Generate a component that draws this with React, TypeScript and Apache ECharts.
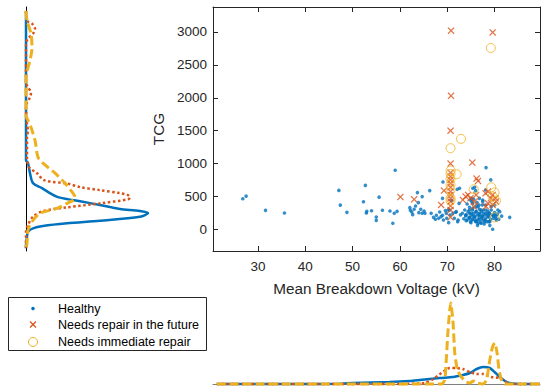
import React, { useEffect, useRef } from "react";
import * as echarts from "echarts";

// ---------- data ----------
const X_MIN = 20.5;
const X_MAX = 89.6;
const Y_MIN = -330;
const Y_MAX = 3380;

const seriesNames = ["Healthy", "Needs repair in the future", "Needs immediate repair"];

// [Mean breakdown voltage (kV), TCG]
const healthy: [number, number][] = [
  [26.8, 464], [27.5, 505], [31.6, 288], [35.6, 247], [47.1, 591], [47.4, 368], [48.8, 258],
  [52.3, 418], [52.7, 667], [52.9, 247], [53.0, 273], [54.0, 282], [55.0, 186], [55.0, 136],
  [55.6, 489], [56.3, 289], [57.9, 279], [58.8, 243], [58.5, 91], [59.4, 273], [59.0, 898],
  [62.1, 329], [62.2, 289], [62.5, 263], [62.7, 223], [63.0, 304], [63.3, 355], [63.7, 558],
  [63.9, 405], [64.0, 253], [64.4, 304], [64.7, 497], [64.7, 243], [65.1, 279], [65.3, 243],
  [66.3, 588], [66.6, 243], [67.1, 182], [67.5, 152], [67.7, 213], [68.2, 167], [68.4, 263],
  [69.0, 213], [69.0, 471], [69.1, 720], [69.2, 141], [69.6, 284], [70.2, 294], [70.3, 101],
  [70.6, 218], [70.9, 436], [71.2, 243], [71.5, 167], [72.1, 608], [72.6, 624], [72.5, 395],
  [72.3, 141], [73.2, 243], [73.7, 294], [73.9, 202], [74.2, 141], [74.4, 268], [74.6, 182],
  [74.7, 243], [74.9, 116], [75.1, 218], [75.3, 294], [75.4, 152], [75.6, 243], [75.8, 182],
  [76.0, 131], [76.1, 268], [76.3, 218], [76.5, 152], [76.7, 243], [76.8, 182], [77.0, 101],
  [77.2, 268], [77.4, 202], [77.5, 141], [77.7, 294], [77.9, 218], [78.1, 167], [78.2, 243],
  [78.4, 116], [78.6, 268], [78.8, 192], [78.9, 243], [79.2, 152], [79.3, 294], [79.5, 218],
  [79.6, 0], [79.8, 167], [80.0, 253], [80.3, 202], [80.7, 294], [80.9, 152], [81.1, 268],
  [75.8, 639], [78.2, 938], [79.2, 751], [78.1, 598], [83.2, 182], [75.1, 471], [74.2, 385],
  [76.7, 370], [77.5, 421], [76.1, 345], [74.7, 334], [76.8, 304], [79.3, 345], [80.0, 370],
  [74.0, 220], [74.8, 180], [75.5, 200], [76.2, 120], [76.9, 230], [77.3, 170], [78.0, 140],
  [78.5, 220], [79.0, 120], [79.8, 200], [80.4, 140], [75.0, 100], [77.8, 80], [76.4, 60],
  [79.0, 60], [73.5, 160], [72.8, 220], [71.8, 260], [80.6, 230], [81.5, 200],
  [75.4, 624], [76.0, 588], [74.9, 446], [75.2, 420], [75.6, 456], [76.8, 471], [77.5, 446],
  [77.4, 370], [69.8, 243], [69.9, 167], [71.9, 268], [73.9, 217], [74.0, 131], [72.2, 116],
  [74.7, 294], [75.1, 243], [75.4, 319], [75.8, 192], [76.1, 268], [76.5, 344], [76.7, 217],
  [76.8, 141], [77.2, 294], [77.4, 192], [77.7, 243], [77.9, 116], [78.2, 294], [78.6, 192],
  [78.8, 116], [78.9, 243], [75.3, 141], [76.0, 116], [76.5, 91], [77.2, 91], [74.7, 167],
  [75.4, 395], [76.3, 405], [78.1, 370], [80.0, 217], [80.3, 167], [68.7, 192], [70.5, 294],
];

const repairFuture: [number, number][] = [
  [70.8, 3020], [79.6, 2994], [70.8, 2030], [70.7, 1500], [70.7, 1000], [75.3, 1015],
  [76.2, 771], [76.5, 736], [70.7, 862], [70.7, 801], [70.7, 751], [70.7, 700], [70.7, 639],
  [70.7, 573], [70.7, 522], [70.7, 471], [70.7, 421], [70.7, 355], [70.7, 294], [70.7, 182],
  [69.3, 588], [60.1, 492], [63.0, 456], [68.7, 370], [73.9, 497], [74.4, 522], [74.9, 471],
  [75.8, 421], [75.6, 345], [73.3, 446], [78.1, 548], [78.6, 573], [79.6, 522], [80.2, 471],
  [80.3, 421], [78.6, 395], [79.6, 370], [78.2, 345], [76.1, 522], [79.2, 471],
];

const repairNow: [number, number][] = [
  [79.2, 2757], [72.9, 1375], [70.7, 1233], [70.7, 893], [70.7, 842], [72.0, 837],
  [70.7, 761], [70.7, 676], [70.7, 598], [70.7, 471], [70.7, 436], [75.6, 608], [79.3, 639],
  [80.0, 560], [79.6, 497], [80.3, 436], [80.0, 182],
];

// marginal densities along TCG: [TCG, relative density]
const healthyTcgDensity: [number, number][] = [
  [3320, 0], [1050, 0], [1005, 0.02], [853, 0.04], [702, 0.07], [626, 0.16], [550, 0.24],
  [489, 0.32], [444, 0.47], [398, 0.64], [338, 0.84], [308, 0.94], [277, 1.14], [247, 1.22],
  [191, 1.14], [130, 0.74], [91, 0.41], [50, 0.17], [15, 0.07], [-36, 0.02], [-112, 0.01],
  [-238, 0], [-290, 0],
];
const futureTcgDensity: [number, number][] = [
  [3320, 0], [3171, 0.01], [3126, 0.06], [3050, 0.09], [2974, 0.07], [2898, 0.02], [2823, 0],
  [2230, 0], [2156, 0.02], [2080, 0.05], [2005, 0.04], [1929, 0.01], [1850, 0], [1600, 0.01],
  [1500, 0.02], [1400, 0.01], [1100, 0.01], [944, 0.03], [853, 0.11], [747, 0.18], [697, 0.41],
  [641, 0.54], [595, 0.74], [550, 0.94], [520, 1.02], [482, 1.04], [455, 1.02], [394, 0.74],
  [333, 0.41], [277, 0.17], [191, 0.07], [65, 0.02], [-36, 0], [-290, 0],
];
const immediateTcgDensity: [number, number][] = [
  [3320, 0], [3171, 0.01], [2974, 0.05], [2762, 0.06], [2565, 0.04], [2459, 0.02], [2308, 0],
  [1730, 0], [1656, 0.02], [1550, 0.05], [1353, 0.09], [1096, 0.12], [1005, 0.17], [853, 0.29],
  [702, 0.39], [568, 0.46], [489, 0.49], [444, 0.48], [418, 0.44], [318, 0.31], [242, 0.14],
  [115, 0.06], [-11, 0.02], [-208, 0.01], [-290, 0],
];

// marginal densities along voltage: [kV, relative density]
const healthyKvDensity: [number, number][] = [
  [21.3, 0], [40, 0], [47.3, 0.003], [50, 0.01], [57.8, 0.02], [62.1, 0.03], [64.2, 0.04],
  [68.4, 0.06], [71.2, 0.07], [73.3, 0.09], [74.8, 0.11], [76.2, 0.15], [77.6, 0.17],
  [79.0, 0.16], [80.0, 0.12], [81.1, 0.07], [82.2, 0.03], [83.2, 0.01], [85.3, 0], [89.6, 0],
];
const futureKvDensity: [number, number][] = [
  [21.3, 0], [60, 0], [62, 0.003], [64.2, 0.005], [65.2, 0.01], [66.7, 0.04], [68.8, 0.11],
  [70.5, 0.16], [71.9, 0.16], [73.3, 0.15], [74.8, 0.12], [76.2, 0.1], [77.6, 0.1], [79.3, 0.07],
  [81.1, 0.06], [82.5, 0.02], [83.6, 0], [89.6, 0],
];
const immediateKvDensity: [number, number][] = [
  [21.3, 0], [68.8, 0], [69.47, 0.04], [69.83, 0.27], [70.17, 0.54], [70.74, 0.81],
  [71.23, 0.61], [71.59, 0.31], [72.16, 0.14], [73.0, 0.07], [74.06, 0.02], [74.8, 0.01],
  [75.5, 0.03], [76.3, 0.01], [77.5, 0], [78.29, 0.04], [78.99, 0.24], [79.56, 0.37],
  [80.04, 0.41], [80.53, 0.31], [80.95, 0.14], [81.46, 0.04], [82.16, 0], [89.6, 0],
];

// ---------- styles ----------
const C_BLUE = "#0072BD";
const C_RED = "#D95319";
const C_YELLOW = "#EDB120";
const AXIS = "#262626";
const FONT = "'Liberation Sans', Arial, Helvetica, sans-serif";
const X_PATH =
  "path://M0,1.25L1.25,0L5,3.75L8.75,0L10,1.25L6.25,5L10,8.75L8.75,10L5,6.25L1.25,10L0,8.75L3.75,5Z";

export default function App() {
  const ref = useRef<HTMLDivElement>(null);

  useEffect(() => {
    document.body.style.margin = "0";
    if (!ref.current) return;
    const chart = echarts.init(ref.current, undefined, { renderer: "svg" });

    const mainAxisCommon = {
      axisLine: { show: true, onZero: false, lineStyle: { color: AXIS, width: 1 } },
      axisTick: { show: true, inside: true, length: 5, lineStyle: { color: AXIS, width: 1 } },
      splitLine: { show: false },
    };
    const nameStyle = { fontSize: 15.3, color: AXIS, fontFamily: FONT, fontWeight: "normal" };
    const labelStyle = {
      show: true, fontSize: 13.5, color: AXIS, fontFamily: FONT, fontWeight: "normal",
      showMinLabel: false, showMaxLabel: false,
      formatter: (v: number) => String(v),
    };

    const option: any = {
      animation: false,
      backgroundColor: "#ffffff",
      grid: [
        { left: 213, top: 7, width: 327, height: 244 },
        { left: 26, top: 7, width: 130, height: 244 },
        { left: 213, top: 294, width: 327, height: 90 },
      ],
      xAxis: [
        {
          gridIndex: 0, type: "value", min: X_MIN, max: X_MAX, splitNumber: 7, position: "bottom",
          name: "Mean Breakdown Voltage (kV)", nameLocation: "middle", nameGap: 30,
          nameTextStyle: nameStyle,
          ...mainAxisCommon,
          axisLabel: { ...labelStyle, margin: 8 },
        },
        {
          gridIndex: 0, type: "value", min: X_MIN, max: X_MAX, splitNumber: 7, position: "top",
          ...mainAxisCommon,
          axisLabel: { show: false },
        },
        { gridIndex: 1, type: "value", min: 0, max: 1.3, show: false },
        {
          gridIndex: 2, type: "value", min: X_MIN, max: X_MAX,
          axisLine: { show: true, onZero: true, lineStyle: { color: "#7f7f7f", width: 1 } },
          axisTick: { show: false }, axisLabel: { show: false }, splitLine: { show: false },
        },
      ],
      yAxis: [
        {
          gridIndex: 0, type: "value", min: Y_MIN, max: Y_MAX, splitNumber: 7, position: "left",
          name: "TCG", nameLocation: "middle", nameGap: 44, nameRotate: 90,
          nameTextStyle: nameStyle,
          ...mainAxisCommon,
          axisLabel: { ...labelStyle, margin: 6 },
        },
        {
          gridIndex: 0, type: "value", min: Y_MIN, max: Y_MAX, splitNumber: 7, position: "right",
          ...mainAxisCommon,
          axisLabel: { show: false },
        },
        {
          gridIndex: 1, type: "value", min: Y_MIN, max: Y_MAX,
          axisLine: { show: true, onZero: true, lineStyle: { color: "#000000", width: 1 } },
          axisTick: { show: false }, axisLabel: { show: false }, splitLine: { show: false },
        },
        { gridIndex: 2, type: "value", min: 0, max: 0.9, show: false },
      ],
      series: [
        {
          name: seriesNames[0], type: "scatter", xAxisIndex: 0, yAxisIndex: 0,
          symbol: "circle", symbolSize: 3.6, data: healthy,
          itemStyle: { color: C_BLUE },
        },
        {
          name: seriesNames[1], type: "scatter", xAxisIndex: 0, yAxisIndex: 0,
          symbol: X_PATH, symbolSize: 7, data: repairFuture,
          itemStyle: { color: C_RED },
        },
        {
          name: seriesNames[2], type: "scatter", xAxisIndex: 0, yAxisIndex: 0,
          symbol: "circle", symbolSize: 9, data: repairNow,
          itemStyle: { color: "transparent", borderColor: C_YELLOW, borderWidth: 1 },
        },
        // left marginal
        {
          type: "line", xAxisIndex: 2, yAxisIndex: 2, showSymbol: false, smooth: 0.3, clip: false,
          data: healthyTcgDensity.map(([t, d]) => [d, t]),
          lineStyle: { color: C_BLUE, width: 2.5 },
        },
        {
          type: "line", xAxisIndex: 2, yAxisIndex: 2, showSymbol: false, smooth: 0.3, clip: false,
          data: futureTcgDensity.map(([t, d]) => [d, t]),
          lineStyle: { color: C_RED, width: 2.5, type: [2.5, 2.5] },
        },
        {
          type: "line", xAxisIndex: 2, yAxisIndex: 2, showSymbol: false, smooth: 0.3, clip: false,
          data: immediateTcgDensity.map(([t, d]) => [d, t]),
          lineStyle: { color: C_YELLOW, width: 3, type: [9, 4] },
        },
        // bottom marginal
        {
          type: "line", xAxisIndex: 3, yAxisIndex: 3, showSymbol: false, smooth: 0.2, clip: false,
          data: healthyKvDensity,
          lineStyle: { color: C_BLUE, width: 2.5 },
        },
        {
          type: "line", xAxisIndex: 3, yAxisIndex: 3, showSymbol: false, smooth: 0.2, clip: false,
          data: futureKvDensity,
          lineStyle: { color: C_RED, width: 2.5, type: [2.5, 2.5] },
        },
        {
          type: "line", xAxisIndex: 3, yAxisIndex: 3, showSymbol: false, smooth: 0.2, clip: false,
          data: immediateKvDensity,
          lineStyle: { color: C_YELLOW, width: 3, type: [9, 4] },
        },
      ],
      graphic: [
        {
          type: "rect", shape: { x: 8.5, y: 297.5, width: 198, height: 53 },
          style: { fill: "#ffffff", stroke: AXIS, lineWidth: 1 },
        },
        { type: "circle", shape: { cx: 33, cy: 308.5, r: 1.8 }, style: { fill: C_BLUE } },
        {
          type: "line", shape: { x1: 30, y1: 321.5, x2: 36, y2: 327.5 },
          style: { stroke: C_RED, lineWidth: 1.2 },
        },
        {
          type: "line", shape: { x1: 36, y1: 321.5, x2: 30, y2: 327.5 },
          style: { stroke: C_RED, lineWidth: 1.2 },
        },
        {
          type: "circle", shape: { cx: 33, cy: 342, r: 4.5 },
          style: { fill: "none", stroke: C_YELLOW, lineWidth: 1 },
        },
        ...seriesNames.map((n, i) => ({
          type: "text", x: 58, y: [308.5, 325, 342][i],
          style: {
            text: n, fontSize: 12.5, fontFamily: FONT, fill: "#000000",
            verticalAlign: "middle", align: "left",
          },
        })),
      ],
    };

    chart.setOption(option);
    return () => chart.dispose();
  }, []);

  return (
    <div
      ref={ref}
      style={{ position: "absolute", left: 0, top: 0, width: 542, height: 388 }}
    />
  );
}
